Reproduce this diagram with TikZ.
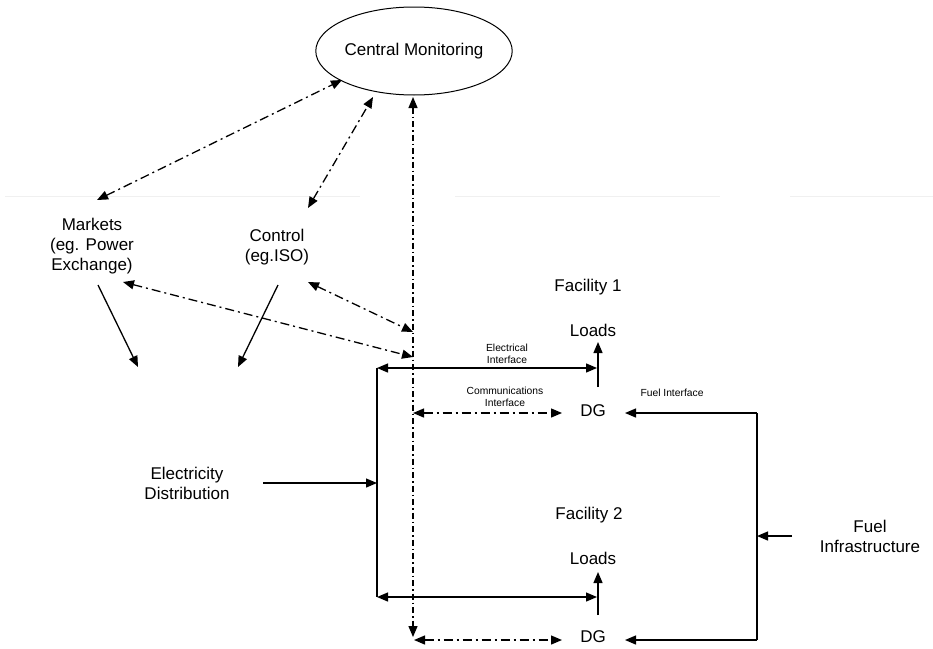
\documentclass[tikz,border=0pt]{standalone}
\usepackage{fontspec}
\setmainfont{Liberation Sans}
\usetikzlibrary{arrows.meta,shapes.geometric}
\begin{document}
\begin{tikzpicture}[x=1pt,y=-1pt,
  tip/.style={-{Triangle[length=11pt,width=9pt]}},
  bitip/.style={{Triangle[length=11pt,width=9pt]}-{Triangle[length=11pt,width=9pt]}},
  ln/.style={line width=1.3pt},
  dd/.style={line width=1.3pt,dash pattern=on 9pt off 4pt on 2pt off 4pt},
  vd/.style={line width=1.3pt,dash pattern=on 6pt off 3pt on 1.5pt off 3pt},
  lbl/.style={font=\fontsize{17}{20}\selectfont,align=center,inner sep=0pt},
  sml/.style={font=\fontsize{10.3}{12}\selectfont,align=center,inner sep=0pt}]
\useasboundingbox (0,0) rectangle (933,648);
% faint guide line
\draw[gray!12,line width=1pt] (5,196) -- (360,196) (455,196) -- (720,196) (790,196) -- (933,196);
% central monitoring
\node[ellipse,draw,line width=1pt,minimum width=176pt,minimum height=88pt,inner sep=0pt,font=\fontsize{17}{20}\selectfont] (cm) at (414,51) {Central Monitoring};
% text nodes
\node[lbl] (markets) at (92,246) {Markets\\(eg. Power\\Exchange)};
\node[lbl] (control) at (277,247) {Control\\(eg.ISO)};
\node[lbl] (fac1) at (588,287) {Facility 1};
\node[lbl] (loads1) at (593,330) {Loads};
\node[lbl] (dg1) at (593,411) {DG};
\node[lbl] (fac2) at (589,515) {Facility 2};
\node[lbl] (loads2) at (593,558) {Loads};
\node[lbl] (dg2) at (593,637) {DG};
\node[lbl] (elecdist) at (187,483) {Electricity\\Distribution};
\node[lbl] (fuelinf) at (870,536) {Fuel\\Infrastructure};
\node[sml] (eif) at (507,354) {Electrical\\Interface};
\node[sml] (cif) at (505,397) {Communications\\Interface};
\node[sml] (fif) at (672,393) {Fuel Interface};
% coordinates
\coordinate (mkTop) at (97,200);
\coordinate (cmMk) at (342,80);
\coordinate (ctTop) at (308,208);
\coordinate (cmCt) at (373,97);
\coordinate (vTop) at (413,97);
\coordinate (vBot) at (413,637);
\coordinate (mkB) at (123,282);
\coordinate (busMk) at (413,357);
\coordinate (ctB) at (308,282);
\coordinate (busCt) at (413,332);
\coordinate (mkS) at (98,285);
\coordinate (mkE) at (138,367);
\coordinate (ctS) at (278,285);
\coordinate (ctE) at (238,367);
\coordinate (bL1) at (377,368);
\coordinate (bR1) at (597,368);
\coordinate (bL2) at (377,597);
\coordinate (bR2) at (597,597);
\coordinate (bMid) at (377,483);
\coordinate (edS) at (263,483);
\coordinate (l1S) at (598,387);
\coordinate (l1E) at (598,342);
\coordinate (l2S) at (598,615);
\coordinate (l2E) at (598,572);
\coordinate (c1L) at (413,413);
\coordinate (c1R) at (562,413);
\coordinate (c2L) at (414,640);
\coordinate (c2R) at (562,640);
\coordinate (fT) at (757,413);
\coordinate (fB) at (757,640);
\coordinate (fM) at (757,536);
\coordinate (fiS) at (792,536);
\coordinate (dg1E) at (625,413);
\coordinate (dg2E) at (625,640);
% communication links
\draw[dd,bitip] (mkTop) -- (cmMk);
\draw[dd,bitip] (ctTop) -- (cmCt);
\draw[vd,bitip] (vTop) -- (vBot);
\draw[dd,bitip] (mkB) -- (busMk);
\draw[dd,bitip] (ctB) -- (busCt);
\draw[dd,bitip] (c1L) -- (c1R);
\draw[dd,bitip] (c2L) -- (c2R);
% solid arrows
\draw[ln,tip] (mkS) -- (mkE);
\draw[ln,tip] (ctS) -- (ctE);
\draw[ln] (bL1) -- (bL2);
\draw[ln,bitip] (bL1) -- (bR1);
\draw[ln,bitip] (bL2) -- (bR2);
\draw[ln,tip] (edS) -- (bMid);
\draw[ln,tip] (l1S) -- (l1E);
\draw[ln,tip] (l2S) -- (l2E);
\draw[ln] (fT) -- (fB);
\draw[ln,tip] (fT) -- (dg1E);
\draw[ln,tip] (fB) -- (dg2E);
\draw[ln,tip] (fiS) -- (fM);
\end{tikzpicture}
\end{document}
